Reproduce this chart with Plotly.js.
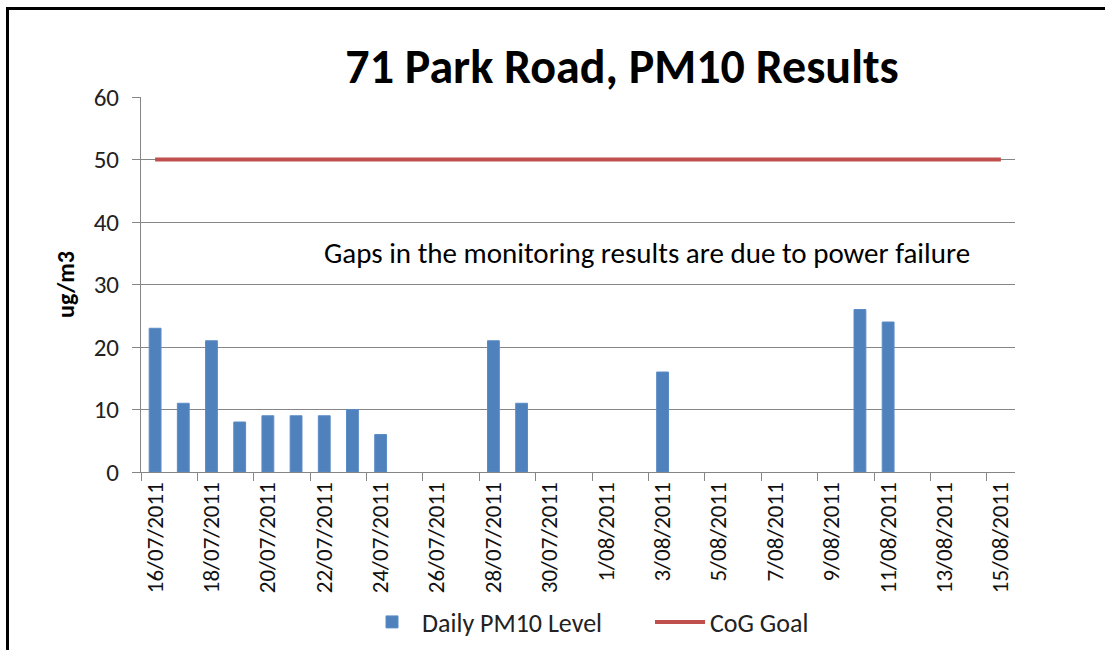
<!DOCTYPE html>
<html>
<head>
<meta charset="utf-8">
<script src="https://cdn.plot.ly/plotly-3.0.1.min.js"></script>
<style>
html,body{margin:0;padding:0;overflow:hidden;background:#fff;}
#wrap{position:relative;width:1105px;height:650px;overflow:hidden;}
#chart{width:1105px;height:650px;}
#frame{position:absolute;left:6px;top:7px;width:1300px;height:800px;border:3px solid #000;pointer-events:none;box-sizing:border-box;}
</style>
</head>
<body>
<div id="wrap"><div id="chart"></div><div id="frame"></div></div>
<script>
var dates = ["16/07/2011","17/07/2011","18/07/2011","19/07/2011","20/07/2011","21/07/2011","22/07/2011","23/07/2011","24/07/2011","25/07/2011","26/07/2011","27/07/2011","28/07/2011","29/07/2011","30/07/2011","31/07/2011","1/08/2011","2/08/2011","3/08/2011","4/08/2011","5/08/2011","6/08/2011","7/08/2011","8/08/2011","9/08/2011","10/08/2011","11/08/2011","12/08/2011","13/08/2011","14/08/2011","15/08/2011"];
var dailyPM10 = [23,11,21,8,9,9,9,10,6,null,null,null,21,11,null,null,null,null,16,null,null,null,null,null,null,26,24,null,null,null,null];
var cogGoal = [50,50,50,50,50,50,50,50,50,50,50,50,50,50,50,50,50,50,50,50,50,50,50,50,50,50,50,50,50,50,50];

var FONT = "Carlito, Calibri, 'Liberation Sans Narrow', 'Open Sans', sans-serif";

var traces = [
  {type:"bar", name:"Daily PM10 Level", x:dates, y:dailyPM10, width:0.42,
   marker:{color:"#4F81BD", line:{color:"#5B8CC6", width:1}}},
  {type:"scatter", mode:"lines", name:"CoG Goal", x:dates, y:cogGoal,
   line:{color:"#C0504D", width:4}}
];

var layout = {
  width:1105, height:650,
  margin:{l:141, r:90, t:97, b:178, autoexpand:false},
  paper_bgcolor:"#fff", plot_bgcolor:"#fff",
  font:{family:FONT, color:"#000", size:18},
  title:{text:"<b>71 Park Road, PM10 Results</b>", font:{family:FONT, size:48, color:"#000"},
         x:622/1105, xanchor:"center", xref:"container", y:1-66/650, yanchor:"middle", yref:"container"},
  showlegend:true,
  legend:{orientation:"h", x:(362-141)/874, xanchor:"left", y:-(622-472)/375, yanchor:"middle",
          font:{family:FONT, size:26, color:"#222"}, bgcolor:"rgba(0,0,0,0)", traceorder:"normal",
          itemwidth:50, entrywidth:223, entrywidthmode:"pixels"},
  xaxis:{type:"category", categoryorder:"array", categoryarray:dates, automargin:false,
         range:[-0.5,30.5], dtick:2, tickson:"boundaries", ticks:"outside", ticklen:8,
         tickcolor:"#868686", tickangle:-90, showgrid:false, showline:true, linecolor:"#868686",
         tickfont:{family:FONT, size:23, color:"#111"}, fixedrange:true, zeroline:false},
  yaxis:{range:[0,60], dtick:10, ticks:"outside", ticklen:8, tickcolor:"#868686", automargin:false,
         showgrid:true, gridcolor:"#868686", gridwidth:1, showline:true, linecolor:"#868686",
         zeroline:false, tickfont:{family:FONT, size:25, color:"#222"}, ticklabelstandoff:8,
         title:{text:"<b>ug/m3</b>", font:{family:FONT, size:24, color:"#000"}, standoff:12}},
  annotations:[{text:"Gaps in the monitoring results are due to power failure", xref:"paper", yref:"paper",
    x:(647-141)/874, y:(472-253)/375, xanchor:"center", yanchor:"middle", showarrow:false,
    font:{family:FONT, size:29, color:"#000"}}],
  bargap:0.5
};

Plotly.newPlot("chart", traces, layout, {staticPlot:true, displayModeBar:false});
</script>
</body>
</html>
